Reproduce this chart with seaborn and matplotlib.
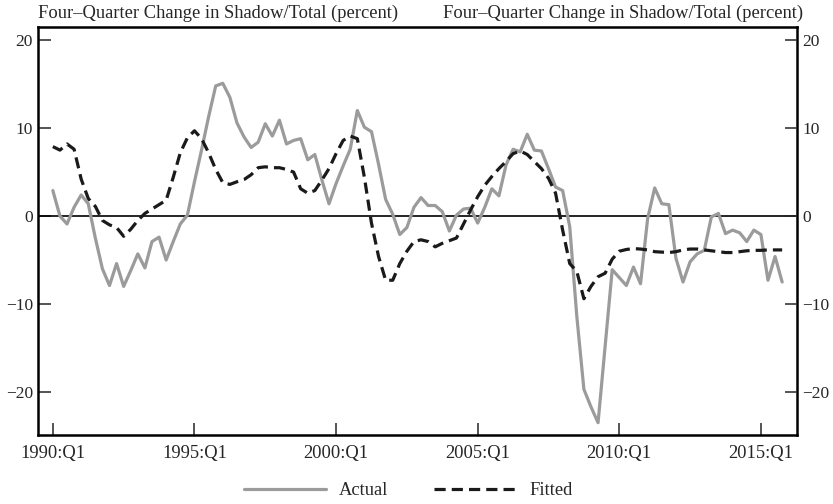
import numpy as np
import pandas as pd
import matplotlib
matplotlib.use("Agg")
import matplotlib.pyplot as plt
import seaborn as sns

# ------------------------------------
# Data: four-quarter change, 1990:Q1 - 2015:Q4
# ------------------------------------
actual = [
    2.9, 0.0, -0.9, 1.0, 2.4, 1.4, -2.5, -6.0, -7.9, -5.4,
    -8.0, -6.2, -4.3, -5.9, -2.9, -2.4, -5.0, -2.9, -0.9, 0.1,
    3.9, 7.5, 11.3, 14.8, 15.1, 13.5, 10.6, 9.0, 7.8, 8.4,
    10.5, 9.1, 10.9, 8.2, 8.6, 8.8, 6.4, 7.0, 4.1, 1.4,
    3.7, 5.7, 7.6, 12.0, 10.1, 9.6, 5.9, 1.9, 0.2, -2.1,
    -1.3, 1.0, 2.1, 1.2, 1.2, 0.5, -1.7, 0.1, 0.8, 0.9,
    -0.8, 1.0, 3.1, 2.3, 5.8, 7.6, 7.3, 9.3, 7.5, 7.4,
    5.4, 3.3, 2.9, -1.2, -11.4, -19.7, -21.7, -23.5, -14.8, -6.1,
    -7.0, -7.9, -5.8, -7.7, -0.3, 3.2, 1.4, 1.3, -4.8, -7.5,
    -5.2, -4.3, -3.9, -0.1, 0.3, -2.0, -1.6, -1.9, -2.9, -1.6,
    -2.1, -7.3, -4.6, -7.5,
]
fitted = [
    7.9, 7.5, 8.2, 7.6, 4.2, 2.0, 1.1, -0.5, -1.0, -1.3,
    -2.3, -1.5, -0.5, 0.3, 0.8, 1.3, 1.8, 4.4, 7.2, 8.9,
    9.7, 8.8, 7.2, 5.3, 3.8, 3.6, 3.9, 4.15, 4.7, 5.5,
    5.6, 5.5, 5.5, 5.3, 5.0, 3.1, 2.6, 2.9, 4.1, 5.4,
    7.1, 8.6, 9.1, 8.8, 4.4, -0.8, -4.6, -7.3, -7.3, -5.4,
    -4.0, -2.9, -2.7, -2.9, -3.5, -3.1, -2.8, -2.5, -0.9, 0.7,
    2.2, 3.5, 4.5, 5.4, 6.2, 7.1, 7.4, 7.0, 6.2, 5.4,
    4.3, 2.6, -1.6, -5.4, -6.3, -9.4, -8.0, -6.9, -6.5, -4.9,
    -4.0, -3.8, -3.7, -3.75, -3.85, -4.05, -4.1, -4.15, -4.05, -3.85,
    -3.75, -3.75, -3.85, -3.95, -4.05, -4.15, -4.15, -4.05, -3.95, -3.9,
    -3.9, -3.85, -3.85, -3.85,
]
tick_labels = ["1990:Q1", "1995:Q1", "2000:Q1", "2005:Q1", "2010:Q1", "2015:Q1"]
y_ticks = [-20, -10, 0, 10, 20]
title_text = "Four\u2013Quarter Change in Shadow/Total (percent)"

quarter = np.arange(len(actual))
df = pd.DataFrame({"quarter": quarter, "Actual": actual, "Fitted": fitted})

# ------------------------------------
# Plot
# ------------------------------------
sns.set_style("ticks")
plt.rcParams["font.family"] = ["Liberation Serif", "DejaVu Serif"]
plt.rcParams["font.size"] = 13.3

fig = plt.figure(figsize=(8.33, 5.04), dpi=100)
ax = fig.add_axes([0.0456, 0.1369, 0.9112, 0.8095])

ax.axhline(0, color="black", linewidth=1.2, zorder=1)
sns.lineplot(data=df, x="quarter", y="Actual", ax=ax, color="#9b9b9b",
             linewidth=2.3, label="Actual", zorder=2)
sns.lineplot(data=df, x="quarter", y="Fitted", ax=ax, color="#1a1a1a",
             linewidth=2.3, label="Fitted", zorder=3)
ax.lines[-1].set_dashes((3.5, 1.9))

ax.set_xlim(-2.1, 105.1)
ax.set_ylim(-24.9, 21.5)
ax.set_xticks(np.arange(0, 101, 20))
ax.set_xticklabels(tick_labels)
ax.set_yticks(y_ticks)
ax.set_xlabel("")
ax.set_ylabel("")

for side in ["left", "right", "top", "bottom"]:
    ax.spines[side].set_visible(True)
    ax.spines[side].set_linewidth(1.8)
    ax.spines[side].set_color("black")

ax.tick_params(axis="x", direction="in", length=9, width=1.1, pad=7, top=False)
ax.tick_params(axis="y", direction="in", length=9, width=1.1, pad=3.5,
               left=True, right=False, labelsize=12.5)

# right-hand axis with the same scale
ax2 = ax.twinx()
ax2.set_ylim(ax.get_ylim())
ax2.set_yticks(y_ticks)
ax2.tick_params(axis="y", direction="in", length=9, width=1.1, pad=4, labelsize=12.5)
for side in ax2.spines:
    ax2.spines[side].set_visible(False)

ax.text(0.0, 1.022, title_text, transform=ax.transAxes, ha="left", va="baseline")
ax.text(1.008, 1.022, title_text, transform=ax.transAxes, ha="right", va="baseline")

handles, labels = ax.get_legend_handles_labels()
ax.get_legend().remove()
fig.legend(handles, labels, loc="center", bbox_to_anchor=(0.49, 0.026), ncol=2,
           frameon=False, handlelength=4.45, handletextpad=0.7, columnspacing=2.45)

fig.savefig("out.png", dpi=100)
